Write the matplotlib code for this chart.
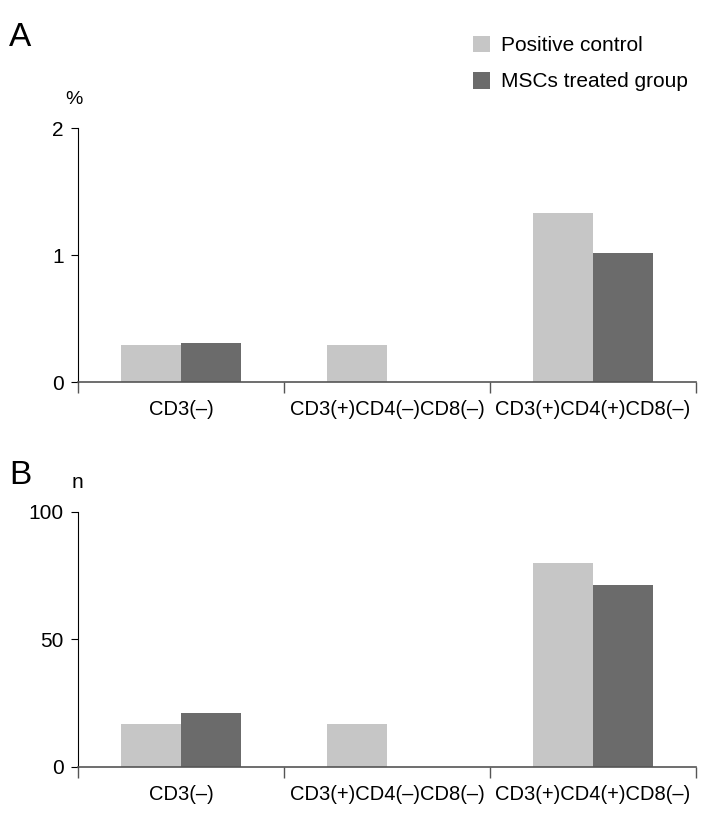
import matplotlib
matplotlib.use("Agg")
import matplotlib.pyplot as plt
import numpy as np

plt.rcParams['font.family'] = ['Liberation Sans', 'DejaVu Sans']

categories = ["CD3(–)", "CD3(+)CD4(–)CD8(–)", "CD3(+)CD4(+)CD8(–)"]
series_names = ["Positive control", "MSCs treated group"]
pct_positive = [0.29, 0.29, 1.33]
pct_msc = [0.31, 0.0, 1.02]
n_positive = [17, 17, 80]
n_msc = [21, 0, 71.5]
colors = ["#c6c6c6", "#6b6b6b"]

fig = plt.figure(figsize=(7.08, 8.13), dpi=100)
axA = fig.add_axes([0.110, 0.530, 0.873, 0.3124])
axB = fig.add_axes([0.110, 0.0566, 0.873, 0.3137])

def draw(ax, pos, msc, ymax, yticks):
    x = np.arange(len(categories))
    w = 0.29
    ax.bar(x - w/2, pos, w, color=colors[0], label=series_names[0])
    ax.bar(x + w/2, msc, w, color=colors[1], label=series_names[1])
    ax.set_xlim(-0.5, 2.5)
    ax.set_ylim(0, ymax)
    ax.set_yticks(yticks)
    ax.set_yticklabels([str(t) for t in yticks], fontsize=15)
    ax.set_xticks(x)
    ax.set_xticklabels(categories, fontsize=14.5)
    ax.set_xticks([-0.5, 0.5, 1.5, 2.5], minor=True)
    ax.tick_params(axis='x', which='major', length=0, pad=13)
    ax.tick_params(axis='x', which='minor', length=8, width=1, color='#555555', direction='out')
    ax.tick_params(axis='y', length=5, width=0.8, pad=5)
    ax.spines['top'].set_visible(False)
    ax.spines['right'].set_visible(False)
    ax.spines['bottom'].set_color('#555555')
    ax.spines['bottom'].set_linewidth(1.2)
    ax.spines['left'].set_linewidth(0.8)

draw(axA, pct_positive, pct_msc, 2, [0, 1, 2])
draw(axB, n_positive, n_msc, 100, [0, 50, 100])

fig.text(74/708, 1 - 100/813, "%", fontsize=14, ha='center', va='center')
fig.text(77/708, 1 - 483/813, "n", fontsize=15, ha='center', va='center')

fig.text(9/708, 1 - 38/813, "A", fontsize=24, ha='left', va='center')
fig.text(9/708, 1 - 476/813, "B", fontsize=24, ha='left', va='center')

handles, labels = axA.get_legend_handles_labels()
fig.legend(handles, labels, loc='upper left', bbox_to_anchor=(454/708, 1 - 17/813),
           frameon=False, fontsize=15, handlelength=0.85, handleheight=0.85,
           handletextpad=0.5, labelspacing=0.8)

fig.savefig("out.png", dpi=100)
